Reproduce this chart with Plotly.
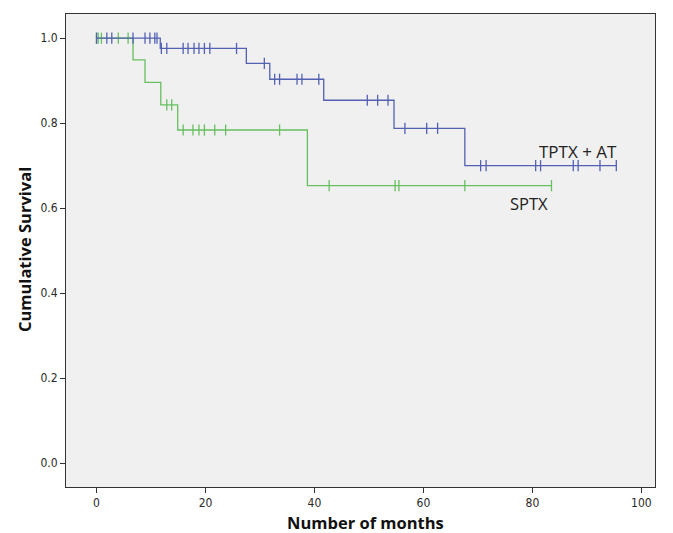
import plotly.graph_objects as go

# TPTX + AT group
tptx_event_times = [11.7, 27.5, 31.8, 41.7, 54.6, 67.6]
tptx_event_surv = [0.976, 0.941, 0.9035, 0.854, 0.788, 0.700]
tptx_censor = [0, 1.9, 2.8, 6.7, 8.9, 9.8, 10.7, 11.1, 11.9, 12.9, 15.9, 16.8, 17.9,
               18.8, 19.8, 20.8, 25.7, 30.8, 32.7, 33.6, 36.8, 37.7, 40.8, 49.7,
               51.6, 53.5, 56.6, 60.6, 62.6, 70.5, 71.5, 80.6, 81.5, 87.5, 88.4,
               92.4, 95.4]

# SPTX group
sptx_event_times = [6.7, 8.9, 11.8, 14.9, 38.7]
sptx_event_surv = [0.949, 0.896, 0.843, 0.784, 0.653]
sptx_censor = [0, 0.3, 0.9, 4.0, 5.8, 12.9, 13.8, 15.9, 17.7, 18.8, 19.8, 21.7,
               23.7, 33.6, 42.7, 54.8, 55.5, 67.6, 83.5]

x_ticks = [0, 20, 40, 60, 80, 100]
y_ticks = [0.0, 0.2, 0.4, 0.6, 0.8, 1.0]
y_tick_labels = ["0.0", "0.2", "0.4", "0.6", "0.8", "1.0"]

BLUE = "#5461b3"
GREEN = "#67bf5f"


def step_curve(ev_t, ev_s, censor):
    xs = [0.0]
    ys = [1.0]
    for t, s in zip(ev_t, ev_s):
        xs.append(t)
        ys.append(s)
    end = max(censor + ev_t)
    xs.append(end)
    ys.append(ys[-1])
    return xs, ys


def surv_at(t, ev_t, ev_s):
    s = 1.0
    for et, es in zip(ev_t, ev_s):
        if t >= et:
            s = es
    return s


fig = go.Figure()
for ev_t, ev_s, cens, color in [
    (sptx_event_times, sptx_event_surv, sptx_censor, GREEN),
    (tptx_event_times, tptx_event_surv, tptx_censor, BLUE),
]:
    xs, ys = step_curve(ev_t, ev_s, cens)
    fig.add_trace(go.Scatter(x=xs, y=ys, mode="lines", line=dict(color=color, width=1.3, shape="hv"),
                             hoverinfo="skip", showlegend=False))
    fig.add_trace(go.Scatter(x=cens, y=[surv_at(c, ev_t, ev_s) for c in cens], mode="markers",
                             marker=dict(symbol="line-ns-open", size=8, color=color,
                                         line=dict(color=color, width=1.3)),
                             showlegend=False))

fig.add_annotation(x=88.3, y=0.733, text="TPTX + AT", showarrow=False,
                   font=dict(family="Open Sans, DejaVu Sans", size=17, color="#222"))
fig.add_annotation(x=79.3, y=0.61, text="SPTX", showarrow=False,
                   font=dict(family="Open Sans, DejaVu Sans", size=16.5, color="#222"))

# axis titles as annotations for exact placement
fig.add_annotation(xref="paper", yref="paper", x=0.509, y=-0.074, text="<b>Number of months</b>",
                   showarrow=False, xanchor="center", yanchor="middle",
                   font=dict(family="Open Sans, DejaVu Sans", size=16.5, color="#111"))
fig.add_annotation(xref="paper", yref="paper", x=-0.0713, y=0.501, text="<b>Cumulative Survival</b>",
                   showarrow=False, xanchor="center", yanchor="middle", textangle=-90,
                   font=dict(family="Open Sans, DejaVu Sans", size=16.5, color="#111"))

fig.update_layout(
    width=665, height=525,
    margin=dict(l=58, r=18, t=6, b=46),
    paper_bgcolor="white",
    plot_bgcolor="#f0f0f0",
    font=dict(family="DejaVu Sans Condensed, Liberation Sans Narrow, sans-serif", size=12, color="#2a2a2a"),
)
fig.update_xaxes(
    range=[-5.6, 102.5], tickvals=x_ticks, ticks="outside", ticklen=5, tickcolor="#333",
    showgrid=False, zeroline=False, showline=True, linecolor="#333", linewidth=1, mirror=True,
    automargin=False,
)
fig.update_yaxes(
    range=[-0.056, 1.057], tickvals=y_ticks, ticktext=y_tick_labels, ticks="outside", ticklen=5,
    tickcolor="#333",
    showgrid=False, zeroline=False, showline=True, linecolor="#333", linewidth=1, mirror=True,
    automargin=False,
)

fig.write_html("out.html")
